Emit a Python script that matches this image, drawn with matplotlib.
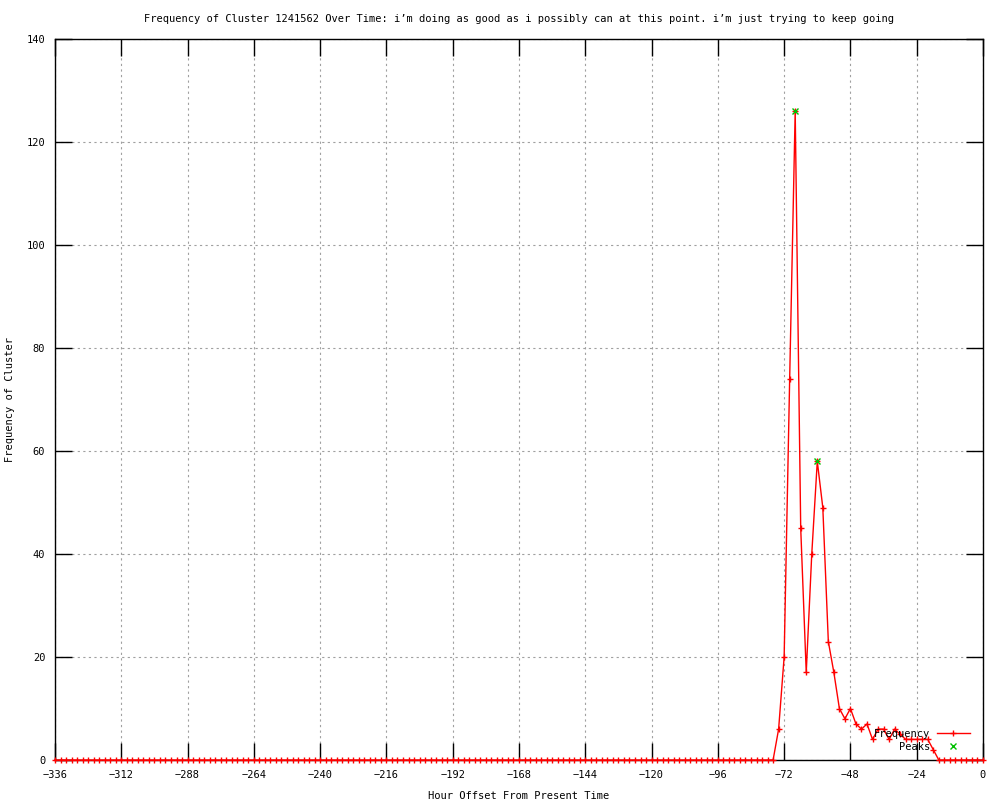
import matplotlib
matplotlib.use("Agg")
import matplotlib.pyplot as plt

# hours offset from present, one sample every 2 hours
hours = list(range(-336, 1, 2))

# frequency: flat zeros, a burst around -70h, then a tail
freq_zero_head = [0] * 131            # -336 .. -76
freq_active = [6, 20, 74, 126, 45, 17, 40, 58, 49, 23, 17, 10, 8, 10, 7,
               6, 7, 4, 6, 6, 4, 6, 5, 4, 4, 4, 4, 4, 2, 0]   # -74 .. -16
freq_zero_tail = [0] * 8              # -14 .. 0
freq = freq_zero_head + freq_active + freq_zero_tail

peak_hours = [-68, -60]
peak_freq = [126, 58]

x_ticks = list(range(-336, 1, 24))
y_ticks = list(range(0, 141, 20))

title = ("Frequency of Cluster 1241562 Over Time: i\u2019m doing as good as i "
         "possibly can at this point. i\u2019m just trying to keep going")

plt.rcParams["font.family"] = ["DejaVu Sans Mono"]
plt.rcParams["font.size"] = 7.5

fig, ax = plt.subplots(figsize=(10, 8), dpi=100)
fig.subplots_adjust(left=0.055, right=0.983, top=0.95125, bottom=0.05)

ax.plot(hours, freq, color="#ff0000", lw=1, marker="+", ms=5, mew=1,
        label="Frequency", clip_on=False, zorder=3)
ax.plot(peak_hours, peak_freq, ls="none", marker="x", ms=5, mew=1,
        color="#00c000", label="Peaks", clip_on=False, zorder=4)

ax.set_xlim(-336, 0)
ax.set_ylim(0, 140)
ax.set_xticks(x_ticks)
ax.set_yticks(y_ticks)
ax.tick_params(direction="in", length=12, width=1, top=True, right=True,
               pad=7)
ax.grid(True, color="#a0a0a0", ls=(0, (2, 3)), lw=0.8)
ax.set_axisbelow(True)
for sp in ax.spines.values():
    sp.set_linewidth(1)

ax.set_title(title, pad=12, fontsize=7.5)
ax.set_xlabel("Hour Offset From Present Time", labelpad=8)
ax.set_ylabel("Frequency of Cluster", labelpad=8)

ax.legend(loc="lower right", bbox_to_anchor=(0.986, 0.011), frameon=False,
          markerfirst=False, borderpad=0, borderaxespad=0, labelspacing=0.3,
          handlelength=3.2, handletextpad=0.6, fontsize=7.5)

fig.savefig("out.png", dpi=100)
